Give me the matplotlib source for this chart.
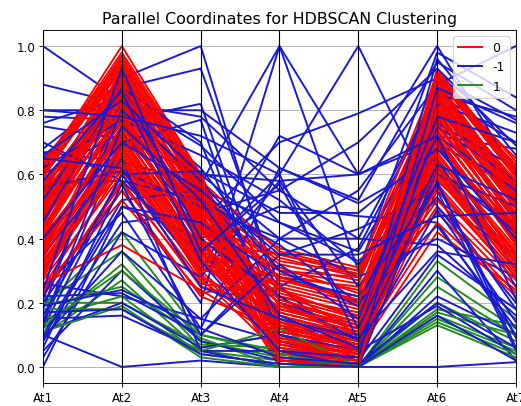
import pandas as pd
import matplotlib
matplotlib.use("Agg")
import matplotlib.pyplot as plt
from pandas.plotting import parallel_coordinates

cols = ["At1", "At2", "At3", "At4", "At5", "At6", "At7"]

# cluster 0 (red)
red_rows = [
    (0.45, 0.85, 0.45, 0.15, 0.05, 0.80, 0.45),
    (0.52, 0.92, 0.50, 0.10, 0.03, 0.88, 0.55),
    (0.38, 0.75, 0.40, 0.20, 0.08, 0.70, 0.40),
    (0.60, 0.95, 0.55, 0.05, 0.02, 0.90, 0.60),
    (0.30, 0.70, 0.35, 0.25, 0.10, 0.65, 0.35),
    (0.48, 0.88, 0.48, 0.12, 0.04, 0.85, 0.50),
    (0.55, 0.80, 0.42, 0.30, 0.28, 0.75, 0.48),
    (0.25, 0.62, 0.30, 0.08, 0.06, 0.60, 0.30),
    (0.42, 0.90, 0.52, 0.02, 0.01, 0.82, 0.52),
    (0.50, 0.78, 0.38, 0.18, 0.12, 0.78, 0.42),
    (0.35, 0.83, 0.44, 0.35, 0.30, 0.72, 0.38),
    (0.62, 1.00, 0.60, 0.07, 0.02, 0.93, 0.62),
    (0.40, 0.72, 0.36, 0.14, 0.05, 0.68, 0.44),
    (0.58, 0.86, 0.47, 0.22, 0.15, 0.86, 0.58),
    (0.28, 0.65, 0.28, 0.04, 0.03, 0.55, 0.28),
    (0.46, 0.93, 0.54, 0.11, 0.07, 0.89, 0.56),
    (0.33, 0.68, 0.33, 0.28, 0.25, 0.62, 0.33),
    (0.53, 0.82, 0.46, 0.16, 0.09, 0.80, 0.47),
    (0.44, 0.76, 0.41, 0.01, 0.00, 0.74, 0.41),
    (0.64, 0.96, 0.58, 0.09, 0.04, 0.91, 0.64),
    (0.22, 0.58, 0.25, 0.19, 0.13, 0.50, 0.25),
    (0.49, 0.87, 0.49, 0.32, 0.27, 0.84, 0.53),
    (0.37, 0.73, 0.39, 0.06, 0.02, 0.69, 0.39),
    (0.56, 0.91, 0.51, 0.13, 0.06, 0.87, 0.57),
    (0.31, 0.66, 0.31, 0.24, 0.18, 0.63, 0.34),
    (0.47, 0.84, 0.45, 0.03, 0.01, 0.81, 0.49),
    (0.41, 0.79, 0.43, 0.17, 0.11, 0.76, 0.43),
    (0.59, 0.94, 0.56, 0.27, 0.22, 0.90, 0.59),
    (0.27, 0.60, 0.27, 0.10, 0.05, 0.57, 0.29),
    (0.51, 0.89, 0.53, 0.37, 0.31, 0.85, 0.54),
    (0.36, 0.71, 0.37, 0.05, 0.03, 0.66, 0.37),
    (0.54, 0.81, 0.44, 0.21, 0.14, 0.79, 0.46),
    (0.43, 0.77, 0.40, 0.00, 0.00, 0.73, 0.42),
    (0.61, 0.97, 0.59, 0.15, 0.08, 0.92, 0.61),
    (0.24, 0.55, 0.22, 0.12, 0.07, 0.45, 0.22),
    (0.50, 0.86, 0.50, 0.33, 0.29, 0.83, 0.51),
    (0.39, 0.74, 0.36, 0.08, 0.04, 0.71, 0.40),
    (0.57, 0.90, 0.52, 0.19, 0.10, 0.88, 0.56),
    (0.32, 0.67, 0.32, 0.26, 0.20, 0.64, 0.32),
    (0.45, 0.82, 0.47, 0.02, 0.02, 0.77, 0.48),
    (0.40, 0.64, 0.34, 0.11, 0.06, 0.58, 0.36),
    (0.63, 0.92, 0.57, 0.23, 0.16, 0.89, 0.63),
    (0.29, 0.69, 0.29, 0.07, 0.04, 0.61, 0.31),
    (0.52, 0.85, 0.48, 0.30, 0.26, 0.82, 0.50),
    (0.34, 0.72, 0.35, 0.14, 0.09, 0.67, 0.35),
    (0.55, 0.88, 0.54, 0.04, 0.01, 0.86, 0.55),
    (0.42, 0.80, 0.42, 0.18, 0.12, 0.75, 0.44),
    (0.60, 0.93, 0.58, 0.36, 0.30, 0.91, 0.60),
    (0.26, 0.38, 0.24, 0.09, 0.05, 0.42, 0.24),
    (0.48, 0.91, 0.51, 0.06, 0.03, 0.87, 0.52),
    (0.37, 0.77, 0.38, 0.20, 0.14, 0.72, 0.38),
    (0.58, 0.83, 0.46, 0.13, 0.07, 0.84, 0.57),
    (0.30, 0.63, 0.30, 0.29, 0.24, 0.59, 0.30),
    (0.46, 0.89, 0.49, 0.01, 0.00, 0.80, 0.46),
    (0.41, 0.70, 0.37, 0.16, 0.10, 0.70, 0.41),
    (0.62, 0.98, 0.60, 0.10, 0.05, 0.92, 0.62),
    (0.23, 0.57, 0.26, 0.22, 0.17, 0.52, 0.27),
    (0.53, 0.87, 0.52, 0.34, 0.28, 0.85, 0.53),
    (0.38, 0.75, 0.41, 0.04, 0.02, 0.70, 0.39),
    (0.56, 0.84, 0.45, 0.25, 0.19, 0.83, 0.58),
    (0.33, 0.61, 0.33, 0.12, 0.08, 0.60, 0.33),
    (0.49, 0.92, 0.55, 0.08, 0.04, 0.88, 0.54),
    (0.44, 0.78, 0.43, 0.31, 0.23, 0.78, 0.45),
    (0.59, 0.95, 0.57, 0.03, 0.01, 0.90, 0.59),
    (0.28, 0.66, 0.28, 0.17, 0.11, 0.56, 0.28),
    (0.51, 0.81, 0.47, 0.21, 0.13, 0.81, 0.50),
    (0.36, 0.69, 0.34, 0.07, 0.03, 0.65, 0.36),
    (0.64, 0.90, 0.56, 0.14, 0.08, 0.89, 0.65),
    (0.25, 0.52, 0.23, 0.27, 0.21, 0.48, 0.23),
    (0.47, 0.86, 0.50, 0.11, 0.06, 0.84, 0.51),
    (0.40, 0.73, 0.39, 0.35, 0.29, 0.73, 0.42),
    (0.54, 0.94, 0.53, 0.05, 0.02, 0.86, 0.56),
    (0.31, 0.64, 0.31, 0.19, 0.12, 0.62, 0.31),
    (0.57, 0.79, 0.44, 0.09, 0.05, 0.79, 0.47),
    (0.43, 0.83, 0.46, 0.24, 0.15, 0.76, 0.43),
    (0.60, 0.96, 0.59, 0.02, 0.00, 0.91, 0.61),
    (0.35, 0.68, 0.35, 0.13, 0.07, 0.63, 0.34),
    (0.50, 0.88, 0.48, 0.28, 0.20, 0.85, 0.52),
]

# noise, cluster -1 (blue)
blue_rows = [
    (1.00, 0.83, 0.62, 0.30, 0.20, 0.70, 0.55),
    (0.88, 0.82, 0.78, 0.55, 0.40, 0.85, 0.70),
    (0.80, 0.80, 0.80, 0.62, 0.52, 0.95, 0.80),
    (0.78, 0.77, 0.82, 0.12, 0.10, 0.72, 0.68),
    (0.76, 0.84, 0.69, 0.45, 0.33, 0.52, 0.35),
    (0.75, 0.71, 0.60, 0.40, 0.55, 0.88, 1.00),
    (0.68, 0.87, 0.93, 0.25, 0.05, 0.60, 0.45),
    (0.67, 0.64, 0.57, 1.00, 0.30, 0.98, 0.84),
    (0.65, 0.90, 1.00, 0.20, 0.12, 0.80, 0.58),
    (0.60, 0.73, 0.45, 0.70, 0.79, 0.90, 0.77),
    (0.57, 0.58, 0.35, 0.60, 1.00, 0.50, 0.20),
    (0.26, 0.22, 0.15, 0.08, 0.02, 0.35, 0.18),
    (0.10, 0.00, 0.02, 0.00, 0.00, 0.00, 0.015),
    (0.00, 0.50, 0.40, 0.50, 0.47, 0.45, 0.10),
    (0.12, 0.60, 0.30, 0.72, 0.60, 1.00, 0.60),
    (0.20, 0.55, 0.20, 1.00, 0.60, 0.70, 0.30),
    (0.08, 0.45, 0.48, 0.55, 0.70, 0.93, 0.69),
    (0.22, 0.23, 0.10, 0.35, 0.43, 0.55, 0.05),
    (0.15, 0.16, 0.05, 0.00, 0.00, 0.22, 0.10),
    (0.25, 0.48, 0.12, 0.62, 0.51, 0.65, 0.25),
    (0.18, 0.84, 0.55, 0.25, 0.37, 0.85, 0.78),
    (0.05, 0.30, 0.08, 0.02, 0.00, 0.30, 0.02),
    (0.10, 0.52, 0.55, 0.45, 0.36, 0.76, 0.62),
    (0.13, 0.70, 0.77, 0.05, 0.02, 0.82, 0.73),
    (0.03, 0.42, 0.28, 0.58, 0.25, 0.53, 0.18),
    (0.11, 0.20, 0.06, 0.10, 0.05, 0.19, 0.04),
    (0.56, 0.61, 0.50, 0.40, 0.28, 0.40, 0.28),
    (0.62, 0.77, 0.66, 0.52, 0.32, 0.60, 0.50),
    (0.52, 0.87, 0.70, 0.10, 0.05, 0.75, 0.58),
    (0.70, 0.58, 0.52, 0.38, 0.20, 0.44, 0.12),
    (0.35, 0.65, 0.05, 0.05, 0.00, 0.62, 0.42),
    (0.45, 0.88, 0.40, 0.22, 0.08, 0.96, 0.66),
    (0.21, 0.80, 0.58, 0.30, 0.19, 0.72, 0.55),
    (0.09, 0.36, 0.15, 0.40, 0.40, 0.38, 0.16),
    (0.16, 0.60, 0.61, 0.48, 0.48, 0.68, 0.40),
    (0.19, 0.24, 0.12, 0.03, 0.01, 0.20, 0.06),
    (0.09, 0.50, 0.45, 0.28, 0.22, 0.57, 0.09),
    (0.06, 0.57, 0.10, 0.32, 0.15, 0.78, 0.70),
    (0.14, 0.75, 0.52, 0.16, 0.06, 0.49, 0.14),
    (0.24, 0.93, 0.36, 0.57, 0.12, 0.63, 0.52),
    (0.58, 0.86, 0.33, 0.05, 0.03, 0.87, 0.76),
    (0.65, 0.62, 0.25, 0.15, 0.09, 0.36, 0.32),
    (0.80, 0.78, 0.72, 0.60, 0.08, 0.58, 0.06),
    (0.66, 0.83, 0.60, 0.58, 0.60, 0.72, 0.21),
    (0.17, 0.18, 0.04, 0.01, 0.00, 0.16, 0.02),
    (0.40, 0.70, 0.55, 0.35, 0.35, 0.47, 0.48),
]

# cluster 1 (green)
green_rows = [
    (0.19, 0.42, 0.10, 0.05, 0.00, 0.33, 0.15),
    (0.20, 0.36, 0.08, 0.03, 0.00, 0.28, 0.12),
    (0.12, 0.32, 0.06, 0.10, 0.00, 0.25, 0.10),
    (0.10, 0.27, 0.05, 0.02, 0.00, 0.20, 0.08),
    (0.19, 0.25, 0.09, 0.00, 0.00, 0.18, 0.13),
    (0.15, 0.22, 0.04, 0.01, 0.00, 0.16, 0.06),
    (0.20, 0.20, 0.07, 0.06, 0.00, 0.15, 0.05),
    (0.11, 0.19, 0.03, 0.00, 0.00, 0.14, 0.04),
    (0.18, 0.18, 0.05, 0.12, 0.00, 0.13, 0.03),
    (0.13, 0.30, 0.10, 0.04, 0.00, 0.17, 0.10),
]

# interleave rows so the clusters overlap like in the original
records = []
labels = []
bi = gi = 0
for k, r in enumerate(red_rows):
    records.append(r); labels.append(0)
    if k % 2 == 1 and bi < len(blue_rows):
        records.append(blue_rows[bi]); labels.append(-1); bi += 1
    if k % 7 == 5 and gi < len(green_rows):
        records.append(green_rows[gi]); labels.append(1); gi += 1
for r in blue_rows[bi:]:
    records.append(r); labels.append(-1)
for r in green_rows[gi:]:
    records.append(r); labels.append(1)

df = pd.DataFrame(records, columns=cols)
df["cluster"] = labels

fig = plt.figure(figsize=(6.4, 4.99), dpi=81.56)
ax = fig.add_axes([43/522, 23/407, 473/522, 353/407])
parallel_coordinates(df, "cluster", color=["#ff0000", "#1a1ad0", "#228b22"],
                     ax=ax, linewidth=1.7)
ax.tick_params(labelsize=10.5)
ax.legend(loc="upper right", fontsize=11)
ax.set_title("Parallel Coordinates for HDBSCAN Clustering", fontsize=14)
fig.savefig("out.png", dpi=81.56)
